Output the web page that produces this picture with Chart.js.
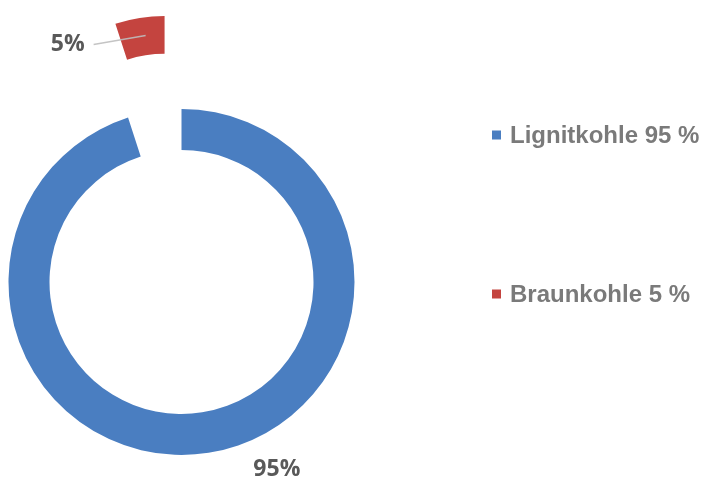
<!DOCTYPE html>
<html>
<head>
<meta charset="utf-8">
<script src="https://cdn.jsdelivr.net/npm/chart.js@4/dist/chart.umd.min.js"></script>
<style>
	html, body { margin: 0; padding: 0; background: #fff; }
	#wrap { width: 704px; height: 479px; position: relative; }
</style>
</head>
<body>
<div id="wrap"><canvas id="coalChart"></canvas></div>
<script>
// Anteile der Kohlearten
const categories = ['Lignitkohle', 'Braunkohle'];
const shares = [95, 5];
const sliceColors = ['#4a7ec1', '#c4443f'];

// Index des herausgezogenen Segments
const EXPLODED = 1;

// herausgezogenes Segment selbst zeichnen, etwas kleiner und weit nach außen versetzt
const explodedSlice = {
	id: 'explodedSlice',
	afterDatasetsDraw(chart) {
		const ctx = chart.ctx;
		const arc = chart.getDatasetMeta(0).data[EXPLODED];
		const { x, y, startAngle, endAngle, innerRadius, outerRadius } = arc.getProps(
			['x', 'y', 'startAngle', 'endAngle', 'innerRadius', 'outerRadius'], true);
		const mid = (startAngle + endAngle) / 2;
		const rMid = (innerRadius + outerRadius) / 2;
		const shift = 96;
		const k = 0.92;
		const cx = x + Math.cos(mid) * (rMid + shift);
		const cy = y + Math.sin(mid) * (rMid + shift);

		ctx.save();
		ctx.translate(cx, cy);
		ctx.scale(k, k);
		ctx.translate(-(x + Math.cos(mid) * rMid), -(y + Math.sin(mid) * rMid));
		ctx.beginPath();
		ctx.arc(x, y, outerRadius, startAngle, endAngle);
		ctx.arc(x, y, innerRadius, endAngle, startAngle, true);
		ctx.closePath();
		ctx.fillStyle = sliceColors[EXPLODED];
		ctx.fill();
		ctx.restore();

		// Führungslinie + Beschriftung
		const lx = cx - 49;
		const ly = cy + 8;
		ctx.save();
		ctx.strokeStyle = 'rgba(190, 190, 190, 0.9)';
		ctx.lineWidth = 1.5;
		ctx.beginPath();
		ctx.moveTo(lx, ly);
		ctx.lineTo(cx + 3, cy - 1);
		ctx.stroke();
		ctx.font = 'bold 23px "Open Sans"';
		ctx.fillStyle = '#595959';
		ctx.textAlign = 'right';
		ctx.textBaseline = 'middle';
		ctx.fillText(shares[EXPLODED] + '%', lx - 9, ly);

		// Beschriftung des großen Segments unten rechts
		const big = chart.getDatasetMeta(0).data[0];
		const a = 63 * Math.PI / 180;
		const r = big.outerRadius + 37;
		ctx.textAlign = 'center';
		ctx.fillText(shares[0] + '%', big.x + Math.cos(a) * r, big.y + Math.sin(a) * r);
		ctx.restore();
	},
};

// Legende rechts
const sideLegend = {
	id: 'sideLegend',
	afterDraw(chart) {
		const ctx = chart.ctx;
		const left = 492;
		const top = 135;
		const step = 159;
		const box = 9;
		ctx.save();
		ctx.font = 'bold 24px "Liberation Sans", Arial, sans-serif';
		ctx.textBaseline = 'middle';
		ctx.textAlign = 'left';
		categories.forEach(function (name, i) {
			const yc = top + i * step;
			ctx.fillStyle = sliceColors[i];
			ctx.fillRect(left, yc - box / 2, box, box);
			ctx.fillStyle = '#7a7a7a';
			ctx.fillText(name + ' ' + shares[i] + ' %', left + 18, yc + 1);
		});
		ctx.restore();
	},
};

var coalChart = new Chart(document.getElementById('coalChart'), {
	type: 'doughnut',
	data: {
		labels: categories,
		datasets: [
			{
				data: shares,
				backgroundColor: function (c) {
					return c.dataIndex === EXPLODED ? 'rgba(0,0,0,0)' : sliceColors[c.dataIndex];
				},
				borderWidth: 0,
				clip: false,
			},
		],
	},
	options: {
		responsive: true,
		maintainAspectRatio: false,
		animation: false,
		radius: 173,
		cutout: '76.3%',
		layout: {
			padding: { left: 8, right: 349, top: 100, bottom: 15 },
		},
		plugins: {
			legend: { display: false },
			tooltip: { enabled: false },
		},
	},
	plugins: [explodedSlice, sideLegend],
});
</script>
</body>
</html>
